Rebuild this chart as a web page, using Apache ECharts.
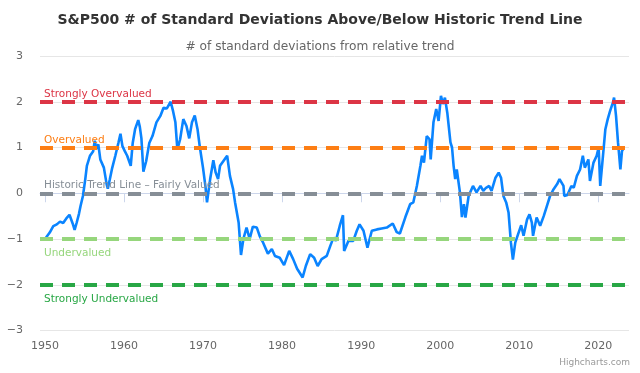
<!DOCTYPE html>
<html>
<head>
<meta charset="utf-8">
<script src="https://cdn.jsdelivr.net/npm/echarts@6/dist/echarts.min.js"></script>
<style>
html,body{margin:0;padding:0;background:#fff;}
#chart{width:640px;height:373px;}
</style>
</head>
<body>
<div id="chart"></div>
<script>
// ---- Data ----
var years = [
  1950.0,1950.3,1950.6,1951.05,1951.5,1951.9,1952.3,1952.7,1953.1,1953.5,1953.75,1954.0,1954.3,1954.5,1954.8,
  1955.1,1955.3,1955.7,1956.1,1956.3,1956.5,1956.75,1957.0,1957.2,1957.45,1957.8,1957.95,1958.2,1958.5,1958.9,
  1959.3,1959.55,1959.8,1960.1,1960.4,1960.6,1960.85,1961.1,1961.4,1961.8,1962.0,1962.2,1962.45,1962.8,1963.2,
  1963.6,1964.1,1964.6,1965.0,1965.4,1965.9,1966.2,1966.5,1966.75,1967.1,1967.5,1967.9,1968.25,1968.6,1968.95,
  1969.3,1969.6,1970.0,1970.3,1970.5,1970.9,1971.3,1971.6,1971.9,1972.15,1972.6,1973.05,1973.4,1973.8,1974.05,
  1974.5,1974.8,1975.1,1975.5,1975.9,1976.3,1976.8,1977.2,1977.6,1978.2,1978.7,1979.1,1979.7,1980.25,1980.9,
  1981.4,1981.9,1982.6,1983.0,1983.55,1984.05,1984.5,1985.0,1985.65,1986.1,1986.5,1986.8,1987.3,1987.7,1987.85,
  1988.4,1989.0,1989.45,1989.8,1990.3,1990.8,1991.35,1992.0,1992.6,1993.25,1994.0,1994.5,1994.9,1995.6,1996.2,
  1996.6,1997.05,1997.5,1997.7,1997.95,1998.3,1998.65,1998.8,1999.15,1999.5,1999.8,2000.1,2000.35,2000.6,2000.9,
  2001.3,2001.5,2001.7,2001.9,2002.1,2002.5,2002.75,2003.0,2003.2,2003.6,2004.15,2004.6,2005.1,2005.45,2005.8,
  2006.2,2006.5,2007.0,2007.4,2007.7,2008.0,2008.35,2008.65,2008.95,2009.2,2009.5,2009.85,2010.25,2010.55,2011.0,
  2011.3,2011.6,2011.75,2012.2,2012.65,2013.1,2013.5,2013.9,2014.35,2014.8,2015.1,2015.6,2015.7,2016.1,2016.6,
  2016.9,2017.3,2017.7,2018.05,2018.3,2018.75,2018.95,2019.4,2019.8,2020.05,2020.25,2020.6,2020.9,2021.2,2021.5,
  2021.85,2022.0,2022.25,2022.5,2022.65,2022.8,2023.0,2023.2
];
var deviations = [
  -1.00,-0.93,-0.86,-0.72,-0.68,-0.62,-0.65,-0.55,-0.47,-0.66,-0.80,-0.65,-0.45,-0.28,-0.06,
  0.31,0.60,0.82,0.92,1.15,0.97,1.07,0.74,0.78,0.56,0.20,0.10,0.30,0.55,0.82,
  1.11,1.30,1.03,0.92,0.82,0.85,0.60,1.10,1.40,1.60,1.45,1.20,0.47,0.70,1.10,
  1.25,1.55,1.69,1.87,1.85,2.00,1.80,1.55,0.96,1.18,1.62,1.47,1.20,1.55,1.70,
  1.40,1.00,0.55,0.15,-0.20,0.31,0.72,0.45,0.31,0.60,0.71,0.82,0.38,0.09,-0.20,
  -0.64,-1.35,-1.00,-0.75,-1.00,-0.73,-0.75,-0.95,-1.08,-1.32,-1.22,-1.37,-1.41,-1.57,-1.26,
  -1.44,-1.65,-1.84,-1.59,-1.33,-1.41,-1.59,-1.44,-1.37,-1.15,-0.97,-1.04,-0.71,-0.48,-1.26,
  -1.04,-1.04,-0.82,-0.68,-0.82,-1.19,-0.82,-0.79,-0.77,-0.75,-0.66,-0.85,-0.88,-0.52,-0.24,
  -0.20,0.16,0.60,0.82,0.67,1.25,1.18,0.74,1.55,1.84,1.58,2.13,1.95,2.09,1.76,
  1.11,1.00,0.60,0.31,0.52,0.02,-0.52,-0.24,-0.53,-0.06,0.16,0.02,0.16,0.05,0.12,
  0.16,0.05,0.34,0.45,0.34,-0.06,-0.20,-0.42,-1.08,-1.45,-1.08,-0.90,-0.70,-0.93,-0.57,
  -0.46,-0.64,-0.93,-0.53,-0.71,-0.50,-0.28,-0.06,0.09,0.20,0.31,0.16,-0.06,-0.04,0.16,
  0.12,0.38,0.52,0.82,0.56,0.74,0.27,0.67,0.82,1.00,0.16,0.82,1.40,1.62,1.80,
  1.98,2.09,1.69,1.11,0.82,0.52,0.92,0.98
];
var xTickYears = [1950,1960,1970,1980,1990,2000,2010,2020];
var levelValues = [2, 1, 0, -1, -2];
var levelNames = ['Strongly Overvalued','Overvalued','Historic Trend Line \u2013 Fairly Valued','Undervalued','Strongly Undervalued'];
var levelColors = ['#dc3545','#fd7e14','#868e96','#96d67c','#28a745'];
var levelLabelSide = ['insideStartTop','insideStartTop','insideStartTop','insideStartBottom','insideStartBottom'];

var FONT = '"DejaVu Sans", sans-serif';
var seriesData = years.map(function(y,i){ return [y, deviations[i]]; });

var markData = levelValues.map(function(v,i){
  var below = levelLabelSide[i] === 'insideStartBottom';
  return {
    yAxis: v,
    lineStyle: {color: levelColors[i], width: 4, type: [13, 9]},
    label: {
      show: true, formatter: levelNames[i], position: levelLabelSide[i],
      color: levelColors[i], fontSize: 10.5, fontFamily: FONT, distance: below ? [4, 9] : [4, 2]
    }
  };
});

var chart = echarts.init(document.getElementById('chart'), null, {renderer:'canvas'});
chart.setOption({
  animation: false,
  backgroundColor: '#ffffff',
  title: [
    {text: 'S&P500 # of Standard Deviations Above/Below Historic Trend Line', left: 'center', top: 8,
     textStyle: {fontFamily: FONT, fontSize: 14, fontWeight: 'bold', color: '#333333'}},
    {text: '# of standard deviations from relative trend', left: 'center', top: 36,
     textStyle: {fontFamily: FONT, fontSize: 12.2, fontWeight: 'normal', color: '#666666'}}
  ],
  graphic: [{
    type: 'text', right: 10, top: 358,
    style: {text: 'Highcharts.com', fill: '#999999', font: '9px ' + FONT}
  }],
  grid: {left: 40, right: 11, top: 56, bottom: 42.5, containLabel: false},
  xAxis: {
    type: 'value', min: 1949.37, max: 2023.89,
    splitLine: {show: false},
    axisLine: {show: true, lineStyle: {color: '#ccd6eb', width: 1}},
    axisTick: {show: true, length: 9, lineStyle: {color: '#ccd6eb'}, customValues: xTickYears},
    axisLabel: {color: '#666666', fontSize: 11, fontFamily: FONT, margin: 10, customValues: xTickYears,
      formatter: function(v){ return String(Math.round(v)); }}
  },
  yAxis: {
    type: 'value', min: -3, max: 3, interval: 1,
    axisLine: {show: false}, axisTick: {show: false},
    splitLine: {show: true, lineStyle: {color: '#e6e6e6', width: 1}},
    axisLabel: {color: '#666666', fontSize: 11, fontFamily: FONT, margin: 17,
      formatter: function(v){ return String(v).replace('-', '\u2212'); }}
  },
  series: [
    {
      type: 'line', data: [], z: 1, silent: true,
      markLine: {silent: true, symbol: ['none','none'], animation: false, data: markData}
    },
    {
      type: 'line', data: seriesData, z: 3, showSymbol: false, smooth: false,
      lineStyle: {color: '#0a84ff', width: 2.6}, itemStyle: {color: '#0a84ff'}
    }
  ]
});
</script>
</body>
</html>
